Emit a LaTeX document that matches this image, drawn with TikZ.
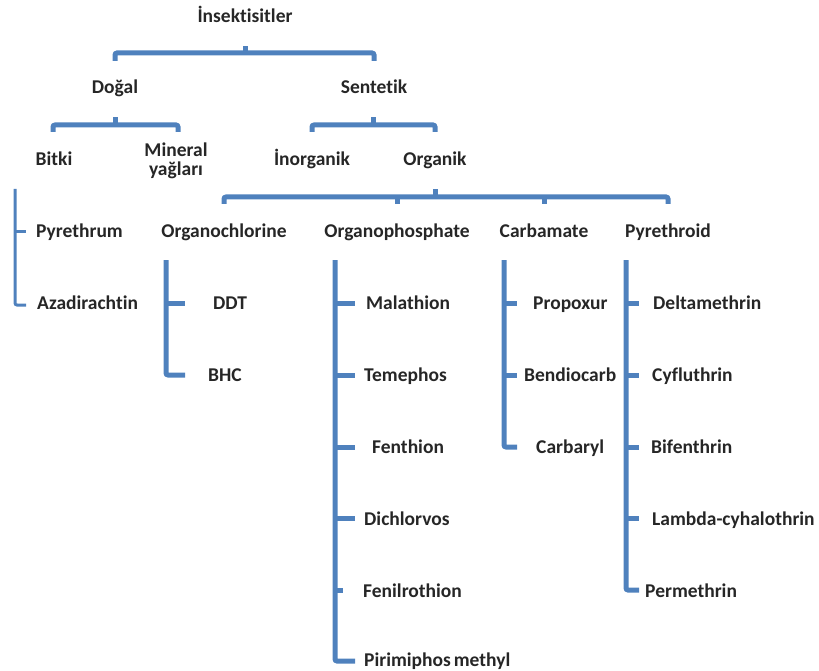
\documentclass[tikz,border=0pt]{standalone}
\usepackage{fontspec}
\setmainfont{Carlito}[Ligatures={NoCommon}, RawFeature={-liga;-clig}]
\usetikzlibrary{positioning}

\definecolor{barblue}{RGB}{79,129,189}
\tikzset{
  lbl/.style={font=\fontsize{19.5}{19}\selectfont\bfseries, text=black!85, inner sep=0pt},
  item/.style={lbl, anchor=base west},
  bar/.style={draw=barblue, line width=5pt, rounded corners=2pt},
  thinbar/.style={bar, line width=3pt}
}

\begin{document}
\begin{tikzpicture}[x=1pt, y=-1pt]
\useasboundingbox (0,0) rectangle (819,671);

            % Upper levels
            \node[lbl, anchor=base] (insekt) at (245,23) {İnsektisitler};
            \node[lbl, anchor=base] (dogal) at (115,94) {Doğal};
            \node[lbl, anchor=base] (sentetik) at (374,94) {Sentetik};
            \node[lbl, anchor=base] (bitki) at (54,166) {Bitki};
            \node[lbl, align=center] (mineral) at (176,161) {Mineral\\yağları};
            \node[lbl, anchor=base] (inorganik) at (312,166) {İnorganik};
            \node[lbl, anchor=base] (organik) at (435,166) {Organik};

            % Groups
            \node[lbl, anchor=base] (organochl) at (224,237) {Organochlorine};
            \node[lbl, anchor=base] (organophos) at (397,237) {Organophosphate};
            \node[lbl, anchor=base] (carbamate) at (544,237) {Carbamate};
            \node[lbl, anchor=base] (pyrethroid) at (668,237) {Pyrethroid};

            % Compounds
            \node[item] (pyrethrum) at (36,237) {Pyrethrum};
            \node[item] (azadir) at (37,309) {Azadirachtin};
            \node[item] (ddt) at (213,309) {DDT};
            \node[item] (bhc) at (208,381) {BHC};
            \node[item] (malathion) at (366,309) {Malathion};
            \node[item] (temephos) at (364,381) {Temephos};
            \node[item] (fenthion) at (372,453) {Fenthion};
            \node[item] (dichlorvos) at (364,525) {Dichlorvos};
            \node[item] (fenilro) at (363,597) {Fenilrothion};
            \node[item] (pirimiphos) at (364,666) {Pirimiphos\hspace{-1.5pt} methyl};
            \node[item] (propoxur) at (533,309) {Propoxur};
            \node[item] (bendiocarb) at (524,381) {Bendiocarb};
            \node[item] (carbaryl) at (536,453) {Carbaryl};
            \node[item] (deltameth) at (653,309) {Deltamethrin};
            \node[item] (cyfluth) at (652,381) {Cyfluthrin};
            \node[item] (bifenth) at (651,453) {Bifenthrin};
            \node[item] (lambda) at (652,525) {Lambda-cyhalothrin};
            \node[item] (permeth) at (645,597) {Permethrin};

            % Brackets
            \draw[bar] (dogal |- 0,61) -- (dogal |- 0,53) -- (sentetik |- 0,53) -- (sentetik |- 0,61);
            \draw[bar] (insekt |- 0,53) -- (insekt |- 0,46);
            \draw[bar] (53,132) -- (53,125) -- (178,125) -- (178,132);
            \draw[bar] (dogal |- 0,125) -- (dogal |- 0,117);
            \draw[bar] (inorganik |- 0,132) -- (inorganik |- 0,125) -- (organik |- 0,125) -- (organik |- 0,132);
            \draw[bar] (373,125) -- (373,117);
            \draw[bar] (organochl |- 0,204) -- (organochl |- 0,197) -- (pyrethroid |- 0,197) -- (pyrethroid |- 0,204);
            \draw[bar] (organik |- 0,197) -- (organik |- 0,189);
            \draw[bar] (organophos |- 0,197) -- (organophos |- 0,204);
            \draw[bar] (carbamate |- 0,197) -- (carbamate |- 0,204);

            % Columns
            \draw[thinbar] (15,189) -- (15,305) -- (26,305);
            \draw[thinbar] (15,231) -- (26,231);

            \draw[bar] (166,260) -- (166,375) -- (185,375);
            \draw[bar] (166,303) -- (185,303);

            \draw[bar] (335,260) -- (335,661) -- (355,661);
            \draw[bar] (335,303) -- (355,303);
            \draw[bar] (335,375) -- (355,375);
            \draw[bar] (335,447) -- (355,447);
            \draw[bar] (335,518) -- (355,518);
            \draw[bar] (335,590) -- (343,590);

            \draw[bar] (504,260) -- (504,447) -- (517,447);
            \draw[bar] (504,303) -- (517,303);
            \draw[bar] (504,375) -- (517,375);

            \draw[bar] (626,260) -- (626,590) -- (639,590);
            \draw[bar] (626,303) -- (639,303);
            \draw[bar] (626,375) -- (639,375);
            \draw[bar] (626,447) -- (639,447);
            \draw[bar] (626,518) -- (639,518);

\end{tikzpicture}
\end{document}
